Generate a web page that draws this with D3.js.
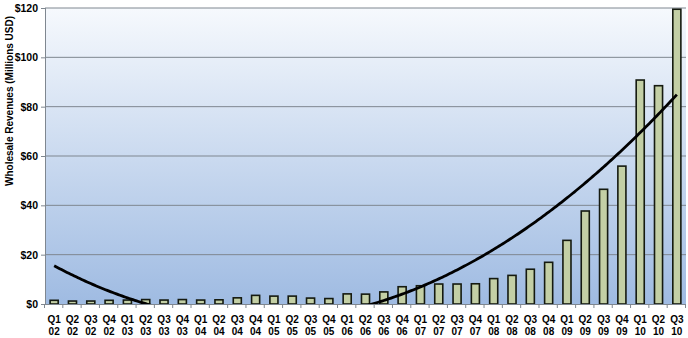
<!DOCTYPE html>
<html>
<head>
<meta charset="utf-8">
<script src="https://cdn.jsdelivr.net/npm/d3@7"></script>
<style>
  body { margin: 0; background: #fff; }
  svg { display: block; font-family: Arial, "Liberation Sans", sans-serif; }
</style>
</head>
<body>
<svg id="chart"></svg>
<script>
const quarters = ["Q1", "Q2", "Q3", "Q4"];
const years = ["02", "03", "04", "05", "06", "07", "08", "09", "10"];
const categories = [];
years.forEach(y => quarters.forEach(q => categories.push({ q: q, y: y })));
categories.splice(35); // ends at Q3 10

const revenues = [
    1.5, 1.2, 1.2, 1.5, 1.6, 1.8, 1.6, 1.8, 1.6, 1.7, 2.5, 3.5,
    3.2, 3.2, 2.4, 2.2, 4.1, 4.0, 4.9, 7.0, 7.4, 8.1, 8.1, 8.2,
    10.3, 11.6, 14.1, 16.9, 25.8, 37.7, 46.5, 55.9, 90.8, 88.5, 119.5
];
const yTicks = [0, 20, 40, 60, 80, 100, 120];

const W = 688, H = 338;
const margin = { top: 8, right: 2, bottom: 34, left: 45 };
const innerW = W - margin.left - margin.right;
const innerH = H - margin.top - margin.bottom;

const svg = d3.select("#chart").attr("width", W).attr("height", H);

const defs = svg.append("defs");
const grad = defs.append("linearGradient")
    .attr("id", "bg").attr("x1", 0).attr("y1", 0).attr("x2", 0).attr("y2", 1);
grad.append("stop").attr("offset", "0%").attr("stop-color", "#f6f9fd");
grad.append("stop").attr("offset", "100%").attr("stop-color", "#9fbbe2");
defs.append("clipPath").attr("id", "plotClip")
    .append("rect").attr("width", innerW).attr("height", innerH);

const x = d3.scaleBand()
    .domain(d3.range(categories.length))
    .range([0, innerW])
    .paddingInner(0.56)
    .paddingOuter(0.28);

const y = d3.scaleLinear().domain([0, 120]).range([innerH, 0]);

const g = svg.append("g").attr("transform", `translate(${margin.left},${margin.top})`);

g.append("rect").attr("width", innerW).attr("height", innerH).attr("fill", "url(#bg)");

// gridlines
g.append("g")
    .selectAll("line")
    .data(yTicks.filter(d => d > 0))
    .join("line")
    .attr("x1", 0).attr("x2", innerW)
    .attr("y1", d => y(d)).attr("y2", d => y(d))
    .attr("stroke", "#7f8790").attr("stroke-width", 1);

// bars
g.append("g")
    .selectAll("rect")
    .data(revenues)
    .join("rect")
    .attr("x", (d, i) => x(i))
    .attr("y", d => y(d))
    .attr("width", x.bandwidth())
    .attr("height", d => y(0) - y(d))
    .attr("fill", "#c3cfa5")
    .attr("stroke", "#151a10")
    .attr("stroke-width", 1.6);

// polynomial (order 2) trendline, least squares on the bar values
const n = revenues.length;
const xs = d3.range(1, n + 1);
const S = k => d3.sum(xs, v => Math.pow(v, k));
const T = k => d3.sum(xs, (v, i) => Math.pow(v, k) * revenues[i]);
const M = [[n, S(1), S(2)], [S(1), S(2), S(3)], [S(2), S(3), S(4)]];
const b = [T(0), T(1), T(2)];
const solve3 = (A, v) => {
    const a = A.map((r, i) => r.concat([v[i]]));
    for (let c = 0; c < 3; c++) {
        for (let r = c + 1; r < 3; r++) {
            const f = a[r][c] / a[c][c];
            for (let k = c; k < 4; k++) a[r][k] -= f * a[c][k];
        }
    }
    const out = [0, 0, 0];
    for (let r = 2; r >= 0; r--) {
        let s = a[r][3];
        for (let k = r + 1; k < 3; k++) s -= a[r][k] * out[k];
        out[r] = s / a[r][r];
    }
    return out;
};
const coef = solve3(M, b);
const trend = d3.range(1, n + 0.001, 0.1).map(t => [t, coef[0] + coef[1] * t + coef[2] * t * t]);
const tx = d3.scaleLinear().domain([1, n]).range([x(0) + x.bandwidth() / 2, x(n - 1) + x.bandwidth() / 2]);

g.append("path")
    .datum(trend)
    .attr("clip-path", "url(#plotClip)")
    .attr("fill", "none")
    .attr("stroke", "#000")
    .attr("stroke-width", 2.8)
    .attr("d", d3.line().x(d => tx(d[0])).y(d => y(d[1])));

// y axis
const yAxis = g.append("g")
    .call(d3.axisLeft(y).tickValues(yTicks).tickFormat(d => "$" + d).tickSize(4).tickPadding(3));
yAxis.select(".domain").attr("stroke", "#7f8790").attr("d", `M0.5,0V${innerH}`);
yAxis.selectAll(".tick line").attr("stroke", "#7f8790");
yAxis.selectAll("text").attr("font-size", 10.5).attr("font-weight", "bold").attr("fill", "#000");

// x axis
const xAxis = g.append("g").attr("transform", `translate(0,${innerH})`);
xAxis.append("line").attr("x1", 0).attr("x2", innerW).attr("y1", 0.5).attr("y2", 0.5).attr("stroke", "#7f8790");
const step = x.step();
xAxis.selectAll(".sep")
    .data(d3.range(categories.length + 1))
    .join("line")
    .attr("class", "sep")
    .attr("x1", i => x(0) - x.paddingInner() * step / 2 + i * step - 0.5)
    .attr("x2", i => x(0) - x.paddingInner() * step / 2 + i * step - 0.5)
    .attr("y1", 0).attr("y2", 4)
    .attr("stroke", "#7f8790");

const labels = xAxis.selectAll(".lbl")
    .data(categories)
    .join("text")
    .attr("class", "lbl")
    .attr("text-anchor", "middle")
    .attr("font-size", 10)
    .attr("font-weight", "bold")
    .attr("fill", "#000");
labels.append("tspan").attr("x", (d, i) => x(i) + x.bandwidth() / 2).attr("y", 19).text(d => d.q);
labels.append("tspan").attr("x", (d, i) => x(i) + x.bandwidth() / 2).attr("y", 31).text(d => d.y);

// axis title
svg.append("text")
    .attr("transform", "translate(13,101) rotate(-90)")
    .attr("text-anchor", "middle")
    .attr("font-size", 10)
    .attr("font-weight", "bold")
    .attr("fill", "#000")
    .text("Wholesale Revenues (Millions USD)");
</script>
</body>
</html>
